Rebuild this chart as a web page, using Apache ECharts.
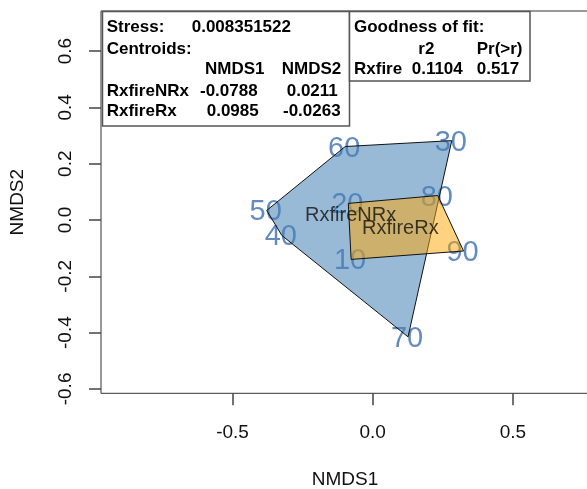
<!DOCTYPE html>
<html>
<head>
<meta charset="utf-8">
<script src="https://cdn.jsdelivr.net/npm/echarts@6/dist/echarts.min.js"></script>
<style>html,body{margin:0;padding:0;background:#fff}#c{width:587px;height:489px}</style>
</head>
<body>
<div id="c"></div>
<script>
// ---- data ----
const siteNames = ['10','20','30','40','50','60','70','80','90'];
const siteX = [-0.077, -0.087, 0.282, -0.324, -0.378, -0.098, 0.126, 0.232, 0.324];
const siteY = [-0.140, 0.059, 0.282, -0.055, 0.034, 0.261, -0.415, 0.087, -0.110];
const hullNRx = ['60','30','70','40','50'];   // RxfireNRx hull (site order)
const hullRx = ['20','80','90','10'];          // RxfireRx hull
const centroidNames = ['RxfireNRx','RxfireRx'];
const centroidX = [-0.0788, 0.0985];
const centroidY = [0.0211, -0.0263];
const stressValue = '0.008351522';
const fitName = 'Rxfire';
const fitR2 = '0.1104';
const fitP = '0.517';
const xTicks = [-0.5, 0, 0.5];
const yTicks = [-0.6, -0.4, -0.2, 0, 0.2, 0.4, 0.6];

const FONT = '"Liberation Sans", Arial, Helvetica, sans-serif';
function pts(names){ return names.map(n => { const i = siteNames.indexOf(n); return [siteX[i], siteY[i]]; }); }

function hullSeries(names, fill, z){
  const data = pts(names);
  return {
    type: 'custom', z: z, silent: true,
    data: data,
    renderItem: function(params, api){
      if (params.dataIndex !== 0) return null;
      return {
        type: 'polygon',
        shape: { points: data.map(p => api.coord(p)) },
        style: { fill: fill, stroke: '#111', lineWidth: 1 }
      };
    }
  };
}

const chart = echarts.init(document.getElementById('c'), null, {renderer:'canvas'});
const boldFont = 'bold 17px ' + FONT;
function t(text, x, y){ return { type:'text', z: 100, style:{ text:text, x:x, y:y, font:boldFont, fill:'#000', align:'left', verticalAlign:'middle' } }; }

chart.setOption({
  animation: false,
  backgroundColor: '#fff',
  grid: { left: 101, top: 11, width: 488, height: 382.3, containLabel: false, outerBoundsMode: 'none',
          show: true, borderColor: '#333', borderWidth: 1, backgroundColor: 'transparent' },
  xAxis: {
    type: 'value', min: -0.969, max: 0.7714,
    name: 'NMDS1', nameLocation: 'middle', nameGap: 77,
    nameTextStyle: { fontSize: 19, color: '#111', fontFamily: FONT },
    axisLine: { show: false, onZero: false }, splitLine: { show: false },
    axisTick: { show: true, customValues: xTicks, length: 12, lineStyle: { color: '#444', width: 1.5 } },
    axisLabel: { customValues: xTicks, formatter: v => v.toFixed(1), margin: 30, fontSize: 19, color: '#111', fontFamily: FONT }
  },
  yAxis: {
    type: 'value', min: -0.6156, max: 0.7425,
    name: 'NMDS2', nameLocation: 'middle', nameGap: 74, nameRotate: 90,
    nameTextStyle: { fontSize: 19, color: '#111', fontFamily: FONT },
    axisLine: { show: false, onZero: false }, splitLine: { show: false },
    axisTick: { show: true, customValues: yTicks, length: 12, lineStyle: { color: '#444', width: 1.5 } },
    axisLabel: { customValues: yTicks, rotate: 90, formatter: v => v.toFixed(1), margin: 26, fontSize: 19, color: '#111', fontFamily: FONT }
  },
  series: [
    {
      type: 'scatter', z: 2, silent: true, symbolSize: 1,
      itemStyle: { color: 'rgba(0,0,0,0)' },
      data: siteNames.map((n, i) => ({ name: n, value: [siteX[i], siteY[i]] })),
      label: { show: true, position: 'inside', offset: [-1, 2], formatter: '{b}', fontSize: 29, color: '#3C6EAF', fontFamily: FONT }
    },
    hullSeries(hullNRx, 'rgba(70,130,180,0.55)', 3),
    hullSeries(hullRx, 'rgba(255,165,0,0.5)', 4),
    {
      type: 'scatter', z: 5, silent: true, symbolSize: 1,
      itemStyle: { color: 'rgba(0,0,0,0)' },
      data: centroidNames.map((n, i) => ({ name: n, value: [centroidX[i], centroidY[i]] })),
      label: { show: true, position: 'inside', offset: [0, 1], formatter: '{b}', fontSize: 20, color: '#111', fontFamily: FONT }
    }
  ],
  graphic: [
    { type:'rect', z: 99, shape:{ x:102.5, y:11.5, width:247, height:114.5 }, style:{ fill:'#fff', stroke:'#555', lineWidth:1.5 } },
    { type:'rect', z: 99, shape:{ x:349.5, y:11.5, width:180.5, height:69.5 }, style:{ fill:'#fff', stroke:'#555', lineWidth:1.5 } },
    t('Stress:', 106.7, 27.5), t(stressValue, 191.7, 27.5),
    t('Centroids:', 106.7, 49.5),
    t('NMDS1', 205, 69.5), t('NMDS2', 281.7, 69.5),
    t(centroidNames[0], 106.7, 91), t(centroidX[0].toFixed(4), 200, 91), t(centroidY[0].toFixed(4), 286.7, 91),
    t(centroidNames[1], 106.7, 111.5), t(centroidX[1].toFixed(4), 206.7, 111.5), t(centroidY[1].toFixed(4), 283, 111.5),
    t('Goodness of fit:', 354, 27.5),
    t('r2', 418.3, 49.5), t('Pr(>r)', 476.7, 49.5),
    t(fitName, 354, 69.5), t(fitR2, 411.7, 69.5), t(fitP, 476.7, 69.5)
  ]
});
</script>
</body>
</html>
